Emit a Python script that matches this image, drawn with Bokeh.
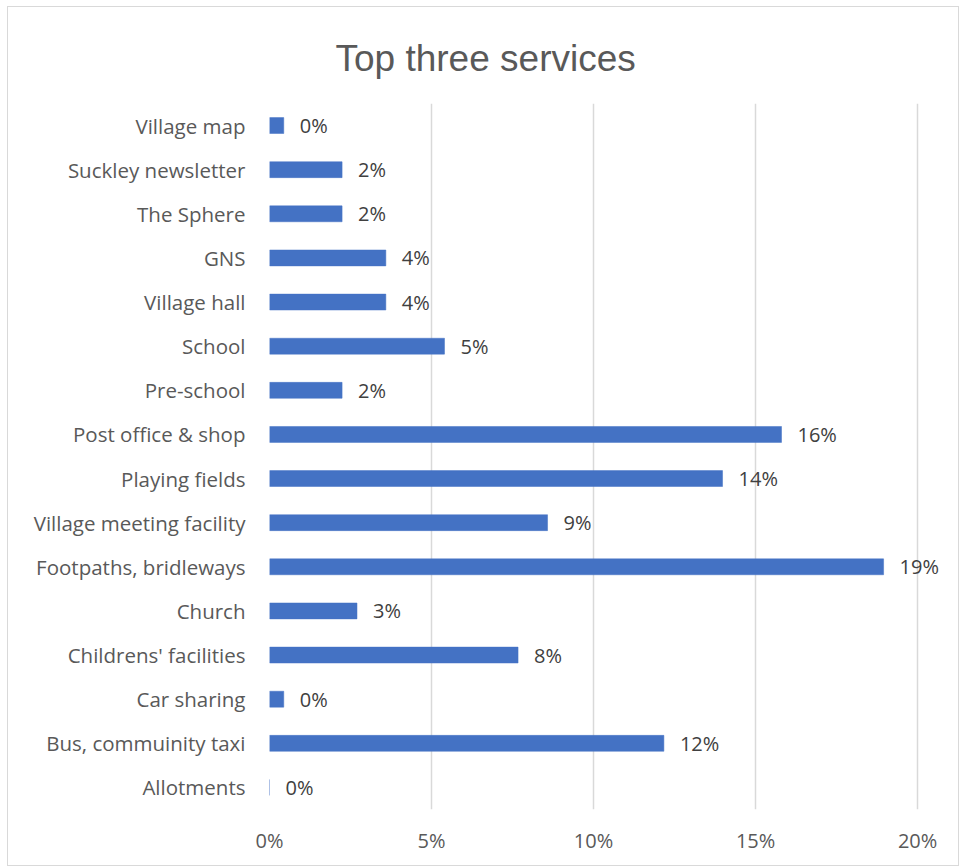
from bokeh.plotting import figure
from bokeh.models import ColumnDataSource, LabelSet, NumeralTickFormatter, FixedTicker, Range1d, FactorRange
from bokeh.core.properties import value
from bokeh.embed import file_html
from bokeh.resources import INLINE

title_text = "Top three services"
categories = ["Village map", "Suckley newsletter", "The Sphere", "GNS", "Village hall",
              "School", "Pre-school", "Post office & shop", "Playing fields",
              "Village meeting facility", "Footpaths, bridleways", "Church",
              "Childrens' facilities", "Car sharing", "Bus, commuinity taxi", "Allotments"]
values = [0.0044, 0.0224, 0.0224, 0.0359, 0.0359, 0.0540, 0.0224, 0.1580, 0.1398,
          0.0858, 0.1895, 0.0270, 0.0767, 0.0044, 0.1217, 0.0]
x_ticks = [0.0, 0.05, 0.10, 0.15, 0.20]

labels = ["{:.0f}%".format(v * 100) for v in values]
src = ColumnDataSource(dict(cat=categories, val=values, lab=labels))

FONT = "Open Sans"
W, H = 952, 860
p = figure(width=W, height=H, output_backend="svg", toolbar_location=None,
           y_range=FactorRange(*list(reversed(categories)), range_padding=0),
           x_range=Range1d(0, 0.212))
p.min_border_left = 261
p.min_border_right = 4
p.min_border_top = 96
p.min_border_bottom = 58
p.outline_line_color = None
p.background_fill_color = "white"
p.border_fill_color = "white"
p.styles = {"border": "1px solid #d9d9d9", "margin-left": "7px", "margin-top": "6px"}

p.title.text = title_text
p.title.align = "left"
p.title.offset = 66
p.title.standoff = 50
p.title.text_font = "Liberation Sans"
p.title.text_font_size = "37px"
p.title.text_font_style = "normal"
p.title.text_color = "#595959"

p.hbar(y="cat", right="val", left=0, height=0.36, source=src,
       fill_color="#4472C4", line_color="#4472C4", line_width=0.5)

p.add_layout(LabelSet(x="val", y="cat", text="lab", source=src, x_offset=16,
                      text_baseline="middle", text_font=value(FONT), text_font_size="20px",
                      text_color="#404040"))

# axes
p.xaxis.ticker = FixedTicker(ticks=x_ticks)
p.xaxis.formatter = NumeralTickFormatter(format="0%")
p.xaxis.axis_line_color = None
p.xaxis.major_tick_line_color = None
p.xaxis.minor_tick_line_color = None
p.xaxis.major_tick_out = 0
p.xaxis.major_label_standoff = 17
p.xaxis.major_label_text_font = FONT
p.xaxis.major_label_text_font_size = "20px"
p.xaxis.major_label_text_color = "#595959"

p.yaxis.axis_line_color = None
p.yaxis.major_tick_line_color = None
p.yaxis.minor_tick_line_color = None
p.yaxis.major_tick_out = 0
p.yaxis.major_label_standoff = 24
p.yaxis.major_label_text_font = FONT
p.yaxis.major_label_text_font_size = "20.5px"
p.yaxis.major_label_text_color = "#595959"

p.xgrid.grid_line_color = "#d9d9d9"
p.xgrid.grid_line_width = 1.5
p.ygrid.grid_line_color = None

open("out.html", "w").write(file_html(p, INLINE))
